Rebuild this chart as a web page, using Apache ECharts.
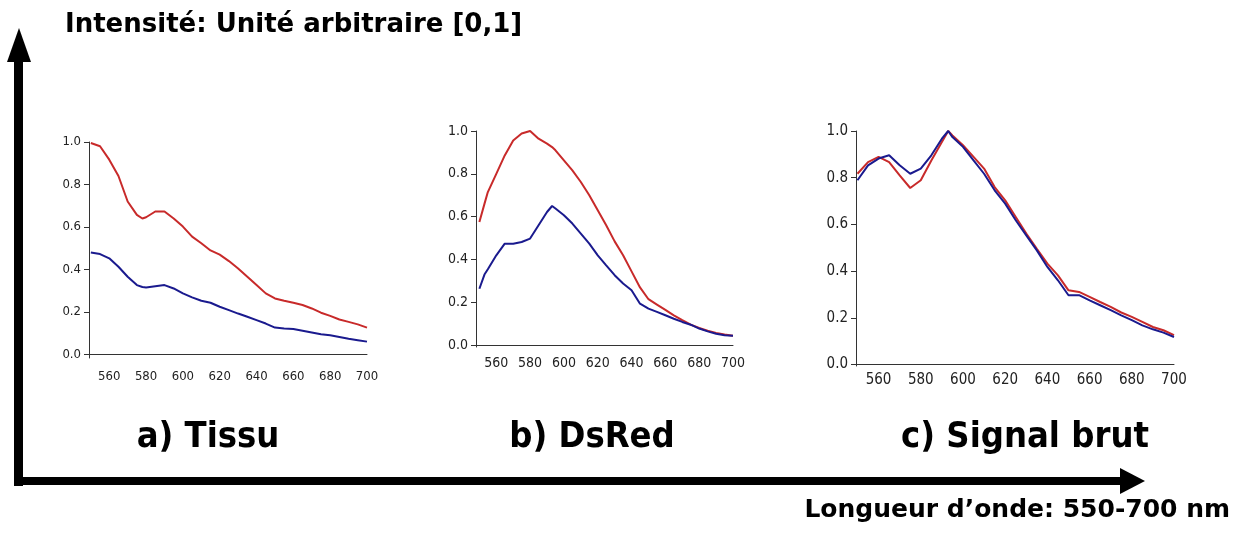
<!DOCTYPE html>
<html lang="fr">
<head>
<meta charset="utf-8">
<script src="https://cdn.jsdelivr.net/npm/echarts@6/dist/echarts.min.js"></script>
<style>
  html, body { margin: 0; padding: 0; background: #fff; }
  #main { width: 1240px; height: 538px; }
</style>
</head>
<body>
<div id="main"></div>
<script>
// wavelengths (nm)
var wlA = [550,555,560,565,570,575,578,580,585,590,595,600,605,610,615,620,625,630,635,640,645,650,655,660,665,670,675,680,685,690,695,700];
var tissuRed  = [0.995,0.98,0.917,0.84,0.72,0.657,0.64,0.646,0.673,0.673,0.64,0.602,0.555,0.524,0.49,0.47,0.44,0.405,0.366,0.327,0.288,0.264,0.253,0.244,0.233,0.217,0.197,0.182,0.165,0.154,0.142,0.127];
var tissuBlue = [0.48,0.473,0.453,0.413,0.366,0.327,0.318,0.316,0.322,0.327,0.311,0.288,0.269,0.253,0.244,0.225,0.209,0.193,0.178,0.162,0.146,0.127,0.123,0.12,0.112,0.104,0.096,0.091,0.083,0.075,0.068,0.061];

var wlB = [550,553,555,560,565,570,575,580,585,590,593,595,600,605,610,615,620,625,630,635,640,645,650,655,660,665,670,675,680,685,690,695,700];
var dsredRed  = [0.575,0.66,0.715,0.8,0.886,0.956,0.988,1.0,0.964,0.941,0.925,0.91,0.863,0.816,0.762,0.7,0.63,0.56,0.485,0.42,0.345,0.27,0.215,0.19,0.165,0.14,0.117,0.096,0.081,0.068,0.058,0.05,0.045];
var dsredBlue = [0.264,0.33,0.355,0.42,0.474,0.474,0.482,0.498,0.56,0.622,0.65,0.638,0.607,0.568,0.521,0.474,0.42,0.373,0.327,0.288,0.257,0.194,0.171,0.156,0.14,0.124,0.109,0.096,0.078,0.065,0.054,0.047,0.044];

var wlC = [550,555,560,565,570,575,580,585,590,593,595,600,605,610,615,620,625,630,635,640,645,650,655,660,665,670,675,680,685,690,695,700];
var brutRed  = [0.817,0.867,0.889,0.867,0.81,0.756,0.789,0.874,0.953,1.0,0.981,0.939,0.889,0.839,0.76,0.703,0.632,0.561,0.496,0.432,0.382,0.318,0.311,0.29,0.268,0.247,0.223,0.204,0.183,0.161,0.147,0.126];
var brutBlue = [0.789,0.853,0.882,0.896,0.853,0.817,0.839,0.896,0.967,1.0,0.974,0.932,0.874,0.817,0.746,0.689,0.618,0.553,0.489,0.418,0.361,0.297,0.297,0.275,0.254,0.233,0.211,0.19,0.168,0.151,0.137,0.118];

var xTicks = [560,580,600,620,640,660,680,700];
var yTicks = [0,0.2,0.4,0.6,0.8,1.0];

var RED = '#c82a2a';
var BLUE = '#1a1a8e';
var labelFont = "'Liberation Sans Narrow', 'DejaVu Sans Condensed', sans-serif";
var titleFont = "'DejaVu Sans Condensed', 'DejaVu Sans', sans-serif";
var wideFont = "'DejaVu Sans', sans-serif";

function pairs(xs, ys) {
  return xs.map(function (x, i) { return [x, ys[i]]; });
}

// pixel boxes for the three small plots
var panels = [
  { left: 89,  top: 142, width: 278, height: 216, xmin: 549, ymin: -0.016, font: 13, xm: 12, wl: wlA, red: tissuRed, blue: tissuBlue },
  { left: 476, top: 131, width: 257, height: 216, xmin: 548, ymin: -0.008, font: 14, xm: 9,  wl: wlB, red: dsredRed, blue: dsredBlue },
  { left: 856, top: 131, width: 318, height: 235, xmin: 549.3, ymin: -0.006, font: 15, xm: 7, wl: wlC, red: brutRed, blue: brutBlue }
];

var grids = [], xAxes = [], yAxes = [], series = [];
panels.forEach(function (p, i) {
  grids.push({ left: p.left, top: p.top, width: p.width, height: p.height });
  xAxes.push({
    type: 'value', gridIndex: i, min: p.xmin, max: 700,
    axisLine: { lineStyle: { color: '#333', width: 1 } },
    axisTick: { show: false },
    splitLine: { show: false },
    axisLabel: { customValues: xTicks, color: '#222', fontFamily: labelFont, fontSize: p.font, margin: p.xm }
  });
  yAxes.push({
    type: 'value', gridIndex: i, min: p.ymin, max: 1.0,
    axisLine: { show: true, lineStyle: { color: '#333', width: 1 } },
    axisTick: { show: true, length: 5, customValues: yTicks, lineStyle: { color: '#333' } },
    splitLine: { show: false },
    axisLabel: {
      customValues: yTicks, color: '#222', fontFamily: labelFont, fontSize: p.font, margin: 8,
      formatter: function (v) { return v.toFixed(1); }
    }
  });
  series.push({ type: 'line', xAxisIndex: i, yAxisIndex: i, data: pairs(p.wl, p.red), showSymbol: false, lineStyle: { color: RED, width: 2 }, z: 2 });
  series.push({ type: 'line', xAxisIndex: i, yAxisIndex: i, data: pairs(p.wl, p.blue), showSymbol: false, lineStyle: { color: BLUE, width: 2 }, z: 3 });
});

var chart = echarts.init(document.getElementById('main'));
chart.setOption({
  backgroundColor: '#fff',
  animation: false,
  grid: grids,
  xAxis: xAxes,
  yAxis: yAxes,
  series: series,
  graphic: [
    // big arrows
    { type: 'rect', shape: { x: 14, y: 58, width: 9, height: 428 }, style: { fill: '#000' } },
    { type: 'polygon', shape: { points: [[19, 28], [7, 62], [31, 62]] }, style: { fill: '#000' } },
    { type: 'rect', shape: { x: 14, y: 477, width: 1110, height: 8 }, style: { fill: '#000' } },
    { type: 'polygon', shape: { points: [[1145, 481], [1120, 468], [1120, 494]] }, style: { fill: '#000' } },
    // texts
    { type: 'text', left: 65, top: 12, style: { text: 'Intensité: Unité arbitraire [0,1]', font: 'bold 26px ' + wideFont, fill: '#000' } },
    { type: 'text', right: 10, top: 498, style: { text: 'Longueur d\u2019onde: 550-700 nm', font: 'bold 25px ' + wideFont, fill: '#000' } },
    { type: 'text', x: 208, y: 438, style: { text: 'a) Tissu', font: 'bold 36px ' + titleFont, fill: '#000', align: 'center', verticalAlign: 'middle' } },
    { type: 'text', x: 592, y: 438, style: { text: 'b) DsRed', font: 'bold 36px ' + titleFont, fill: '#000', align: 'center', verticalAlign: 'middle' } },
    { type: 'text', x: 1025, y: 438, style: { text: 'c) Signal brut', font: 'bold 36px ' + titleFont, fill: '#000', align: 'center', verticalAlign: 'middle' } }
  ]
});
</script>
</body>
</html>
